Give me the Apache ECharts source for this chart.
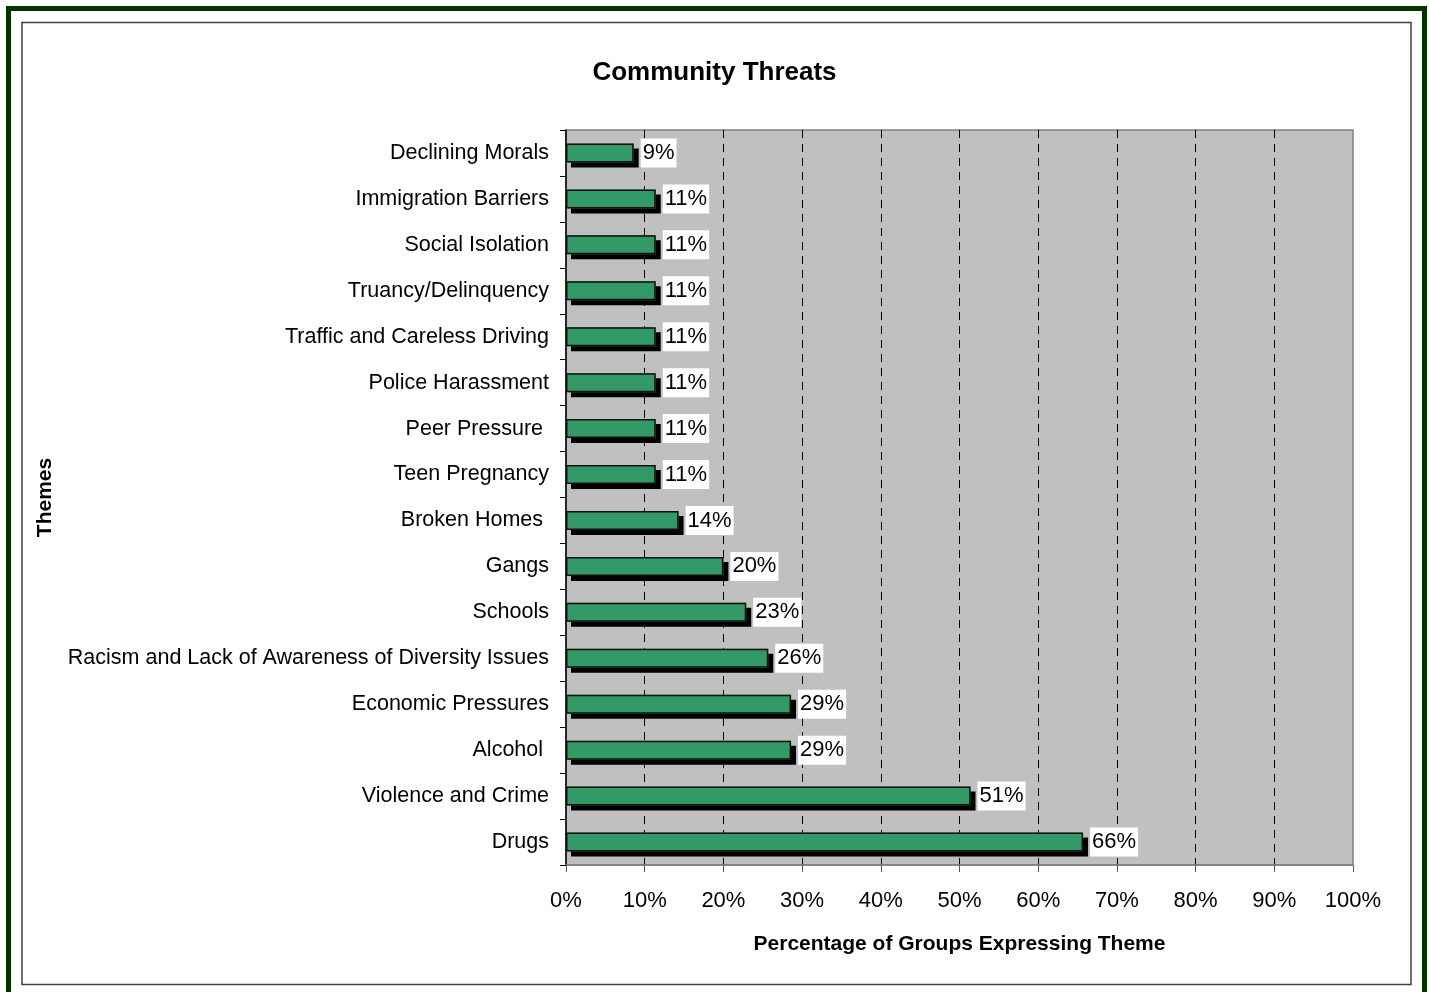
<!DOCTYPE html>
<html>
<head>
<meta charset="utf-8">
<script src="https://cdn.jsdelivr.net/npm/echarts@6/dist/echarts.min.js"></script>
<style>
html, body { margin: 0; padding: 0; background: #fff; }
#main { width: 1429px; height: 992px; }
</style>
</head>
<body>
<div id="main"></div>
<script>
// themes, top to bottom as in the picture
var themes = ['Declining Morals', 'Immigration Barriers', 'Social Isolation', 'Truancy/Delinquency',
  'Traffic and Careless Driving', 'Police Harassment', 'Peer Pressure ', 'Teen Pregnancy',
  'Broken Homes ', 'Gangs', 'Schools', 'Racism and Lack of Awareness of Diversity Issues',
  'Economic Pressures', 'Alcohol ', 'Violence and Crime', 'Drugs'];
// percent of groups
var pct = [8.6, 11.4, 11.4, 11.4, 11.4, 11.4, 11.4, 11.4, 14.3, 20.0, 22.9, 25.7, 28.6, 28.6, 51.4, 65.7];
var xTicks = [0, 10, 20, 30, 40, 50, 60, 70, 80, 90, 100];

var font = 'Arial, "Liberation Sans", sans-serif';
var chart = echarts.init(document.getElementById('main'));

var option = {
  animation: false,
  textStyle: { fontFamily: font, color: '#000' },
  title: {
    text: 'Community Threats',
    left: 'center',
    top: 55,
    textStyle: { fontFamily: font, fontSize: 26, fontWeight: 'bold', color: '#000' }
  },
  grid: {
    left: 566, right: 76, top: 130, bottom: 127,
    show: true,
    backgroundColor: '#c0c0c0',
    borderColor: '#808080',
    borderWidth: 1.5
  },
  xAxis: {
    type: 'value',
    min: xTicks[0],
    max: xTicks[xTicks.length - 1],
    interval: 10,
    name: 'Percentage of Groups Expressing Theme',
    nameLocation: 'middle',
    nameGap: 69,
    nameTextStyle: { fontFamily: font, fontSize: 21, fontWeight: 'bold', color: '#000' },
    axisLine: { show: true, lineStyle: { color: '#808080', width: 1.5 } },
    axisTick: { show: true, length: 7, lineStyle: { color: '#555' } },
    axisLabel: {
      margin: 25, fontSize: 22, color: '#000', fontFamily: font,
      formatter: function (v) { return v + '%'; }
    },
    splitLine: { show: true, showMaxLine: false, showMinLine: false, lineStyle: { color: '#000', type: [8, 6], width: 1 } }
  },
  yAxis: {
    type: 'category',
    data: themes,
    inverse: true,
    name: 'Themes',
    nameLocation: 'middle',
    nameGap: 510,
    nameRotate: 90,
    nameTextStyle: { fontFamily: font, fontSize: 21, fontWeight: 'bold', color: '#000' },
    axisLine: { show: true, lineStyle: { color: '#000', width: 1.5 } },
    axisTick: { show: true, length: 6, lineStyle: { color: '#000' } },
    axisLabel: { margin: 17, fontSize: 21.5, color: '#000', fontFamily: font, padding: [5, 0, 0, 0] }
  },
  series: [{
    // green fill with hard black drop shadow
    type: 'bar',
    data: pct,
    barWidth: 19,
    itemStyle: {
      color: '#339966',
      shadowColor: '#000',
      shadowBlur: 0,
      shadowOffsetX: 5,
      shadowOffsetY: 5
    },
    label: {
      show: true,
      position: 'right',
      distance: 7,
      backgroundColor: '#fff',
      padding: [7, 2, 0, 2],
      fontSize: 22,
      fontFamily: font,
      color: '#000',
      formatter: function (p) { return Math.round(p.value) + '%'; }
    }
  }, {
    // outline drawn over the fill
    type: 'bar',
    data: pct,
    barWidth: 19,
    barGap: '-100%',
    silent: true,
    itemStyle: { color: 'rgba(0,0,0,0)', borderColor: '#111', borderWidth: 1.5 }
  }],
  graphic: [
    {
      type: 'rect', z: 100, silent: true,
      shape: { x: 8.5, y: 8.5, width: 1416, height: 1000 },
      style: { fill: null, stroke: '#003300', lineWidth: 5 }
    },
    {
      type: 'rect', z: 100, silent: true,
      shape: { x: 22, y: 22.5, width: 1389, height: 962 },
      style: { fill: null, stroke: '#404040', lineWidth: 1.5 }
    }
  ]
};
chart.setOption(option);
</script>
</body>
</html>
